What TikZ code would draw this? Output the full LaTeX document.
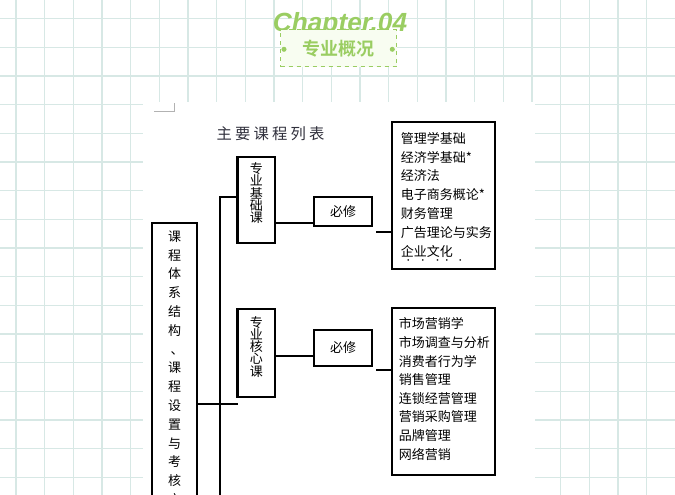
\documentclass[tikz,border=0pt]{standalone}
\usepackage{fontspec}
\setmainfont{Noto Sans CJK SC}[BoldFont={Noto Sans CJK SC Bold}]
\newfontfamily\chapterfont{Liberation Sans}
\definecolor{gridteal}{HTML}{D7E8E5}
\definecolor{leafgreen}{HTML}{9ACD62}
\definecolor{bannerfill}{HTML}{F8FDF1}
\definecolor{titleink}{HTML}{30303C}
\begin{document}
\begin{tikzpicture}[x=.75pt,y=-.75pt,
    every node/.style={font=\fontsize{9.75pt}{14.1pt}\selectfont},
    link/.style={line width=1.6pt},
    boxline/.style={draw,line width=1.6pt,inner sep=0pt},
    stackbox/.style={boxline,align=center,font=\fontsize{9.75pt}{9.2pt}\selectfont,minimum width=28.1pt},
    bixiu/.style={boxline,minimum width=43.3pt},
    listbox/.style={boxline,minimum width=77.25pt},
    entry/.style={anchor=west,inner sep=0pt}]
    \useasboundingbox (0,0) rectangle (675,495);
    \clip (0,0) rectangle (675,495);
    % squared paper
    \foreach \gx in {0,...,23} {
        \draw[gridteal,line width=1.1pt] ({16+28.67*\gx},0) -- ({16+28.67*\gx},495);
    }
    \foreach \gy in {0,...,17} {
        \draw[gridteal,line width=1.1pt] (0,{18.7+28.67*\gy}) -- (675,{18.7+28.67*\gy});
    }
    \fill[white] (143,102) rectangle (535,500);
    \draw[gray!60,line width=.6pt] (154,111) -- (174,111) -- (174,103);
    % heading
    \node[anchor=base,text=leafgreen,font=\chapterfont\bfseries\itshape\fontsize{19.7pt}{20pt}\selectfont] (chapter) at (340,32) {Chapter.04};
    \node[draw=leafgreen,dashed,fill=bannerfill,line width=.8pt,minimum width=87pt,minimum height=27.5pt,text=leafgreen,font=\bfseries\fontsize{13.5pt}{14pt}\selectfont] (banner) at (338.7,48.3) {专业概况};
    \fill[leafgreen] (284,49.3) circle (1.9pt) (392.3,49.3) circle (1.9pt);
    \node[text=titleink,font=\fontsize{11.5pt}{12pt}\selectfont] (tabletitle) at (270.5,134) {主\kern2.4pt 要\kern2.4pt 课\kern2.4pt 程\kern2.4pt 列\kern2.4pt 表};
    % tree
    \node[boxline,anchor=north,align=center,minimum width=33.75pt,inner ysep=5.7pt] (system) at (174.5,222) {课\\程\\体\\系\\结\\构\\\kern4pt 、\\课\\程\\设\\置\\与\\考\\核\\方\\案};
    \node[stackbox,minimum height=64.5pt,text depth=11.5pt] (basecourse) at (256.25,200.3) {专\\业\\基\\础\\课};
    \node[stackbox,minimum height=65.8pt,text depth=10pt] (corecourse) at (256.25,352.8) {专\\业\\核\\心\\课};
    \node[bixiu,minimum height=21.5pt] (required1) at (343.2,211.7) {必修};
    \node[bixiu,minimum height=26.8pt] (required2) at (343.2,347.8) {必修};
    \node[listbox,minimum height=110.25pt] (list1) at (443.5,195.5) {};
    \node[listbox,minimum height=125.25pt] (list2) at (443.5,391.5) {};
    \foreach \course [count=\i] in {管理学基础,经济学基础*,经济法,电子商务概论*,财务管理,广告理论与实务,企业文化} {
        \node[entry] (b\i) at (400.5,{138.3+18.85*(\i-1)}) {\course};
    }
    \node[entry,font=\fontsize{6pt}{6pt}\selectfont] (b8) at (404,261.5) {·\kern5pt·\kern5pt·\kern1pt·\kern4pt·};
    \foreach \course [count=\i] in {市场营销学,市场调查与分析,消费者行为学,销售管理,连锁经营管理,营销采购管理,品牌管理,网络营销} {
        \node[entry] (c\i) at (398.5,{324+18.6*(\i-1)}) {\course};
    }
    \coordinate (trunktop) at (220,196.7);
    \coordinate (trunkend) at (220,505);
    \coordinate (stubend) at (237.7,404);
    \coordinate (gapA) at (376,231.7);
    \coordinate (gapB) at (376,370);
    \draw[link] (basecourse.west |- trunktop) -- (trunktop) -- (trunkend);
    \draw[link] (system.east |- stubend) -- (stubend);
    \draw[link] ([yshift=3.2pt]required1.south west) -- ([yshift=3.2pt]required1.south west -| basecourse.east);
    \draw[link] (corecourse.east |- 0,355.7) -- (required2.west |- 0,355.7);
    \draw[link] (gapA) -- (gapA -| list1.west);
    \draw[link] (gapB) -- (gapB -| list2.west);
\end{tikzpicture}
\end{document}
